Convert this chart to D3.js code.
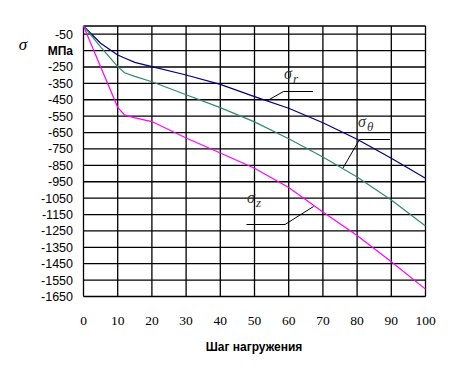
<!DOCTYPE html>
<html><head><meta charset="utf-8">
<script src="https://cdn.jsdelivr.net/npm/d3@7"></script>
<style>body{margin:0;background:#fff}</style>
</head><body>
<svg id="c" width="454" height="374"></svg>
<script>
const steps   = [0, 5, 10, 12, 15, 20, 30, 40, 50, 60, 70, 80, 90, 100];
const sigmaR  = [0, -105, -177, -195, -222, -248, -299, -356, -431, -502, -590, -691, -807, -929];
const sigmaT  = [0, -128, -248, -285, -307, -340, -419, -498, -585, -688, -799, -921, -1061, -1220];
const sigmaZ  = [0, -248, -496, -543, -560, -583, -683, -775, -868, -985, -1135, -1278, -1438, -1605];
const xTicks  = [0, 10, 20, 30, 40, 50, 60, 70, 80, 90, 100];
const yGrid   = [-50, -150, -250, -350, -450, -550, -650, -750, -850, -950, -1050, -1150, -1250, -1350, -1450, -1550, -1650];
const yLabels = ["-50", "МПа", "-250", "-350", "-450", "-550", "-650", "-750", "-850", "-950", "-1050", "-1150", "-1250", "-1350", "-1450", "-1550", "-1650"];

const svg = d3.select("#c");
const x = d3.scaleLinear().domain([0, 100]).range([83.5, 425.5]);
const y = d3.scaleLinear().domain([0, -1650]).range([26, 296.5]);

const g = svg.append("g");
// grid
g.selectAll(".vg").data(xTicks).join("line")
  .attr("x1", d => x(d)).attr("x2", d => x(d)).attr("y1", y(0)).attr("y2", y(-1650))
  .attr("stroke", "#000").attr("stroke-width", 1.3);
g.selectAll(".hg").data([0, ...yGrid]).join("line")
  .attr("x1", x(0)).attr("x2", x(100)).attr("y1", d => y(d)).attr("y2", d => y(d))
  .attr("stroke", "#000").attr("stroke-width", 1.3);

// y tick labels
g.selectAll(".yl").data(yGrid).join("text")
  .attr("x", 73).attr("y", d => y(d)).attr("dy", "0.36em")
  .attr("text-anchor", "end").attr("font-family", "Liberation Sans, Arial, sans-serif")
  .attr("font-weight", (d, i) => yLabels[i] === "МПа" ? "bold" : "normal")
  .attr("font-size", (d, i) => yLabels[i] === "МПа" ? 12 : 12.5)
  .attr("fill", "#000").text((d, i) => yLabels[i]);

// x tick labels
g.selectAll(".xl").data(xTicks).join("text")
  .attr("x", d => x(d)).attr("y", 325)
  .attr("text-anchor", "middle").attr("font-family", "Liberation Serif, Times New Roman, serif")
  .attr("font-size", 13.5).attr("fill", "#000").text(d => d);

// axis titles
svg.append("text").attr("x", 254).attr("y", 351).attr("text-anchor", "middle")
  .attr("font-family", "Liberation Sans, Arial, sans-serif").attr("font-weight", "bold")
  .attr("font-size", 12).text("Шаг нагружения");
svg.append("text").attr("x", 23).attr("y", 50).attr("text-anchor", "middle")
  .attr("font-family", "Liberation Serif, Times New Roman, serif").attr("font-style", "italic")
  .attr("font-size", 17).text("σ");

// series
const series = [
  {vals: sigmaR, color: "#000080"},
  {vals: sigmaT, color: "#2e8b6e"},
  {vals: sigmaZ, color: "#ff00ff"}
];
const line = d3.line().x((d, i) => x(steps[i])).y(d => y(d));
svg.selectAll(".s").data(series).join("path")
  .attr("d", d => line(d.vals)).attr("fill", "none")
  .attr("stroke", d => d.color).attr("stroke-width", 1.2);

// annotations
const ann = [
  {sub: "r", tx: 284, ty: 79, pts: [[313, 91.5], [283.5, 91.5], [267.5, 100.5]]},
  {sub: "θ", tx: 358, ty: 127, pts: [[390, 139.5], [359.5, 139.5], [343, 168]]},
  {sub: "z", tx: 247, ty: 203, pts: [[246.5, 224.5], [285, 224.5], [313.5, 206.5]]}
];
ann.forEach(a => {
  svg.append("path").attr("d", d3.line()(a.pts)).attr("fill", "none")
    .attr("stroke", "#000").attr("stroke-width", 1);
  const t = svg.append("text").attr("x", a.tx).attr("y", a.ty)
    .attr("font-family", "Liberation Serif, Times New Roman, serif").attr("font-style", "italic")
    .attr("font-size", 16).attr("fill", "#333");
  t.append("tspan").text("σ");
  t.append("tspan").attr("dy", 4).attr("dx", 1).attr("font-size", 13).text(a.sub);
});
</script>
</body></html>
